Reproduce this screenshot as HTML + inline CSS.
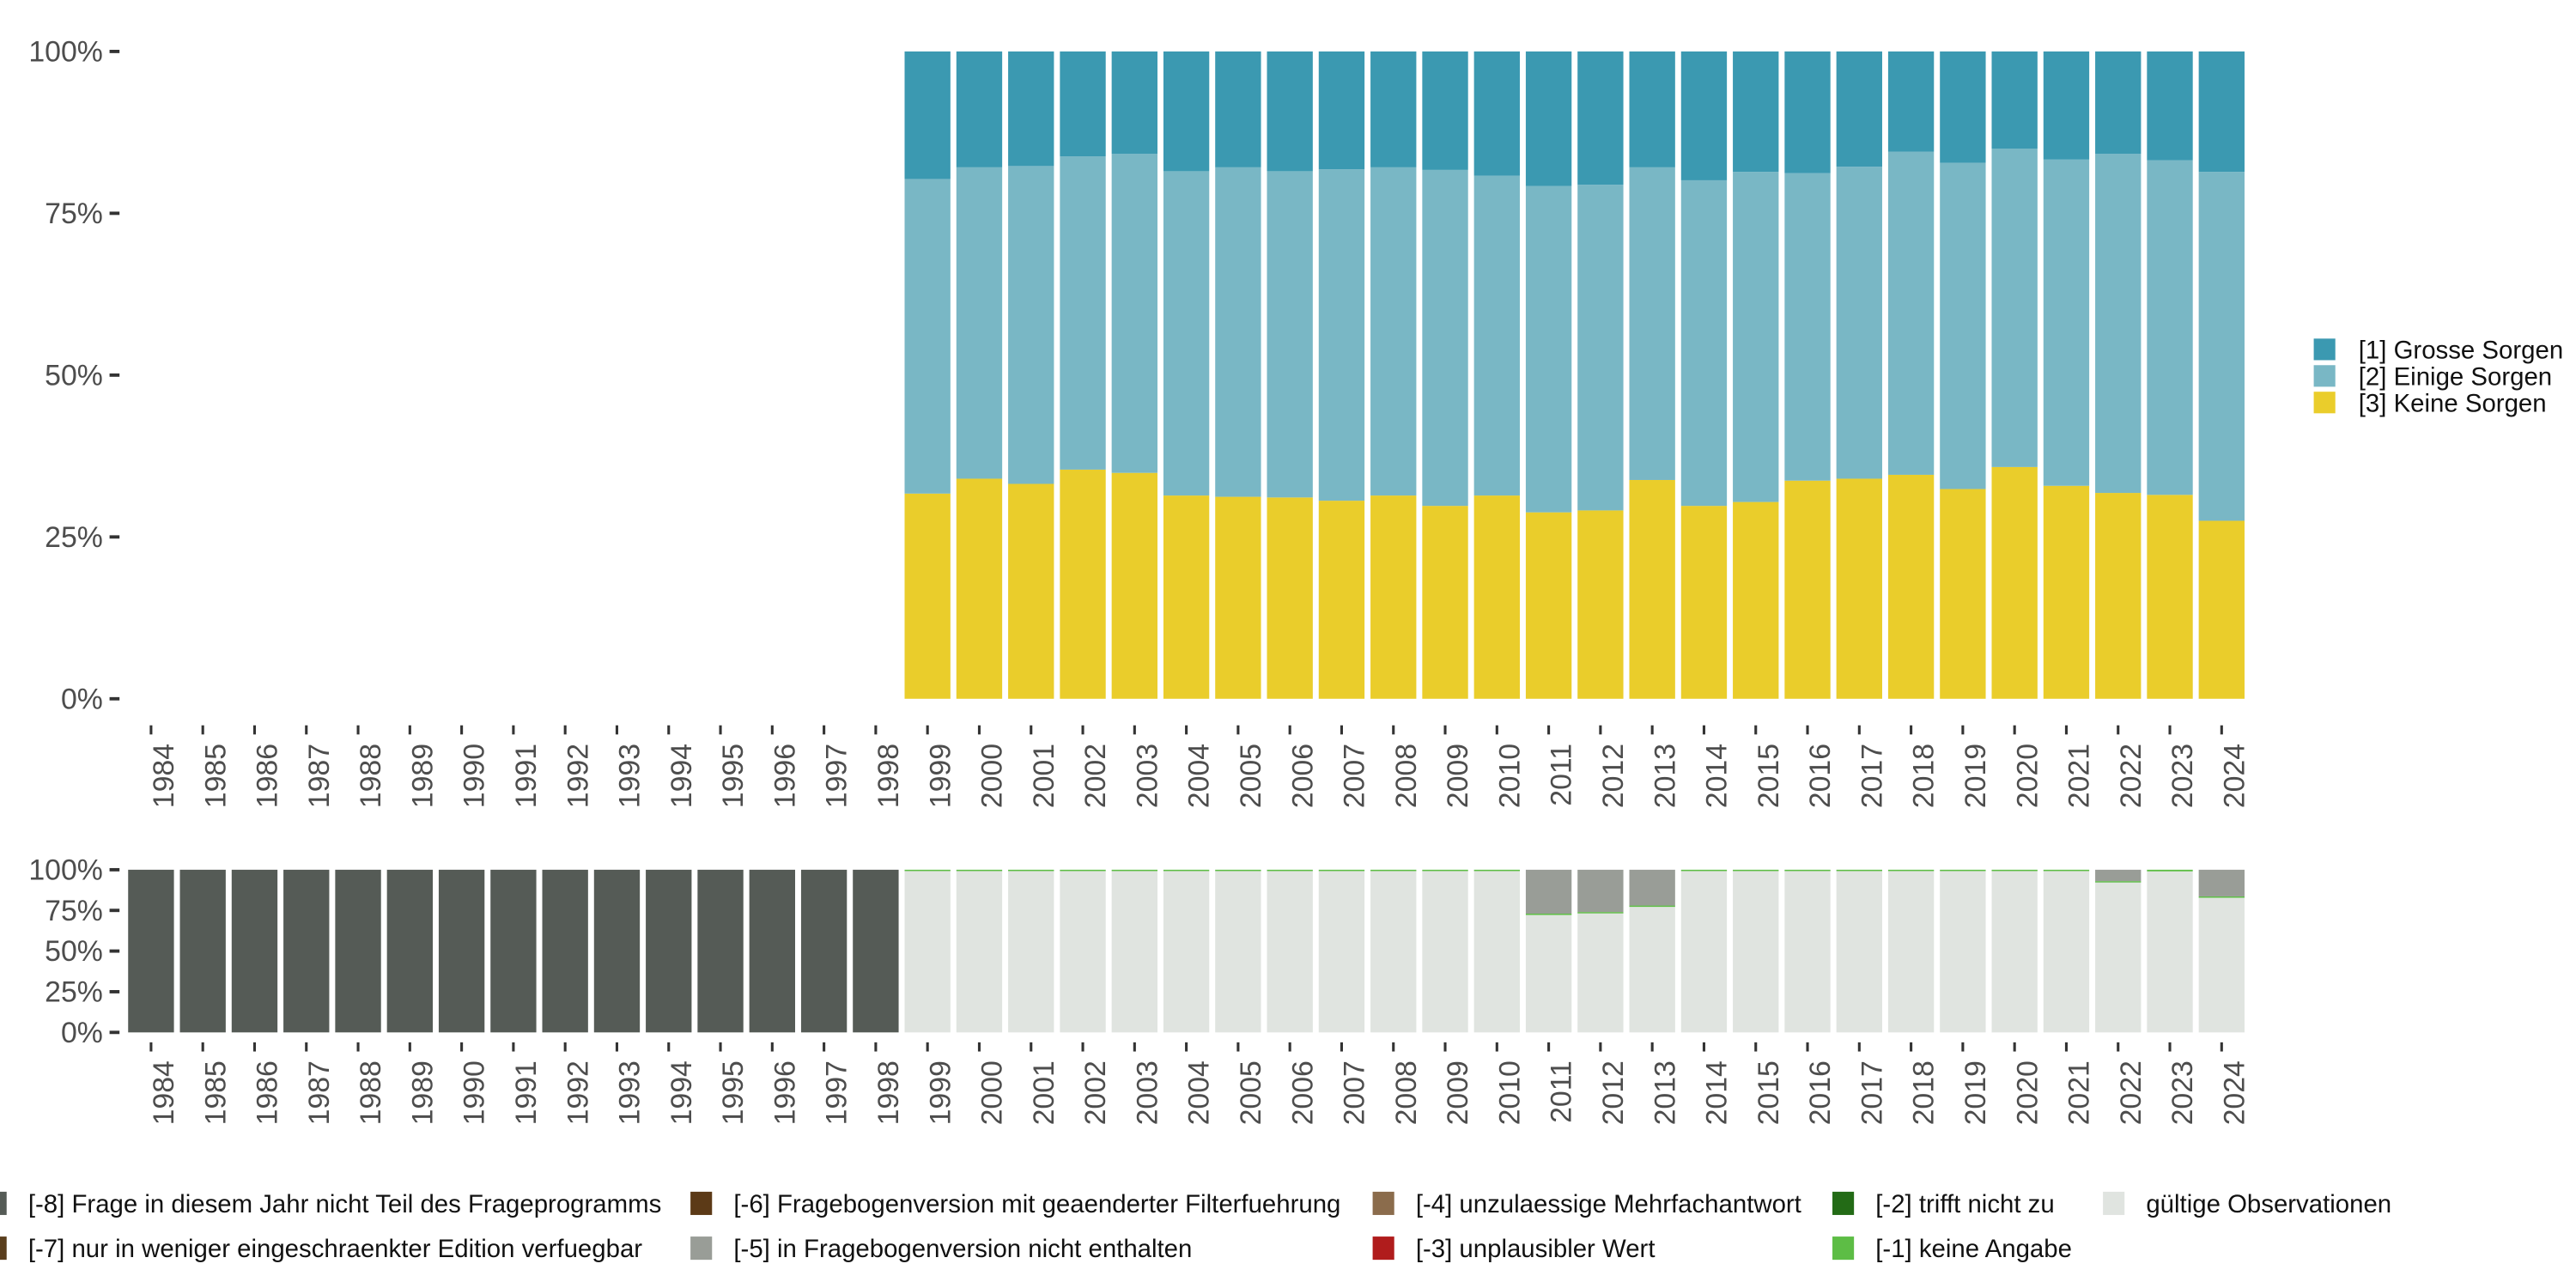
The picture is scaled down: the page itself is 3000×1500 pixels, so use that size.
<!DOCTYPE html>
<html><head><meta charset="utf-8">
<style>
html,body{margin:0;padding:0;background:#fff;}
svg{display:block;font-family:"Liberation Sans",sans-serif;}
</style></head>
<body>
<svg id="chart" width="3000" height="1500" viewBox="0 0 1552 776" xmlns="http://www.w3.org/2000/svg">
<g id="topPanel"></g>
<g id="botPanel"></g>
<g id="leg1"></g>
<g id="leg2"></g>
</svg>
<script>
const years = [];
for (let y = 1984; y <= 2024; y++) years.push(y);
const dataYears = [1999,2000,2001,2002,2003,2004,2005,2006,2007,2008,2009,2010,2011,2012,2013,2014,2015,2016,2017,2018,2019,2020,2021,2022,2023,2024];
const keine = [31.7,34.0,33.2,35.4,34.9,31.4,31.2,31.1,30.6,31.4,29.8,31.4,28.8,29.1,33.8,29.8,30.4,33.7,34.0,34.6,32.4,35.8,32.9,31.8,31.5,27.5];
const grosse = [19.7,17.9,17.7,16.2,15.8,18.5,17.9,18.5,18.2,17.9,18.3,19.2,20.8,20.6,17.9,19.9,18.6,18.8,17.8,15.5,17.2,15.0,16.7,15.8,16.8,18.6];
const missing8 = [100,100,100,100,100,100,100,100,100,100,100,100,100,100,100,0,0,0,0,0,0,0,0,0,0,0,0,0,0,0,0,0,0,0,0,0,0,0,0,0,0];
const missing5 = [0,0,0,0,0,0,0,0,0,0,0,0,0,0,0,0,0,0,0,0,0,0,0,0,0,0,0,27,26,22,0,0,0,0,0,0,0,0,7,0,16.4];
const missing1 = [0,0,0,0,0,0,0,0,0,0,0,0,0,0,0,0.4,0.4,0.4,0.4,0.4,0.4,0.4,0.4,0.4,0.4,0.4,0.4,0.4,0.4,0.4,0.4,0.4,0.4,0.4,0.4,0.4,0.4,0.4,0.4,1.0,0.4];
const yTicks = [0,25,50,75,100];
const yTickLabels = ["0%","25%","50%","75%","100%"];

const NS = "http://www.w3.org/2000/svg";
function mk(tag, attrs, parent){const e=document.createElementNS(NS,tag);for(const k in attrs)e.setAttribute(k,attrs[k]);parent.appendChild(e);return e;}
const xs = yr => 91 + (yr-1984)*(1338.5-91)/40;
const bw = 27.6;
const yTop = v => 421 - v/100*390;
const yBot = v => 622 - v/100*98;

function axes(g, yf, tickY, labY){
  yTicks.forEach((t,i)=>{
    const l=mk('line',{x1:66,x2:72,y1:yf(t),y2:yf(t),stroke:'#333','stroke-width':2},g);
    
    
    const tx=mk('text',{x:62,y:yf(t)+6,'text-anchor':'end','font-size':17.5,fill:'#4d4d4d'},g);
    
    
    tx.textContent=yTickLabels[i];
  });
  years.forEach(yr=>{
    const l=mk('line',{x1:xs(yr),x2:xs(yr),y1:tickY,y2:tickY+5.5,stroke:'#333','stroke-width':1.6},g);
    
    
    const tx=mk('text',{x:0,y:0,'text-anchor':'end','font-size':17.5,fill:'#4d4d4d',transform:'translate('+(xs(yr)+13.5)+','+labY+') rotate(-90)'},g);
    
    
    tx.textContent=yr;
  });
}

const topG=document.getElementById('topPanel');
dataYears.forEach((yr,i)=>{
  const k=keine[i], gr=grosse[i], ei=100-k-gr;
  const segs=[[0,k,'#eacd2b','bar-keine-sorgen'],[k,k+ei,'#79b7c5','bar-einige-sorgen'],[k+ei,100,'#3b99b1','bar-grosse-sorgen']];
  segs.forEach(s=>{
    const r=mk('rect',{x:xs(yr)-bw/2,y:yTop(s[1]),width:bw,height:yTop(s[0])-yTop(s[1]),fill:s[2]},topG);
    
    
  });
});
axes(topG,yTop,437,448);

const botG=document.getElementById('botPanel');
years.forEach((yr,i)=>{
  const m8=missing8[i]||0, m5=missing5[i]||0, m1=missing1[i]||0;
  let segs;
  if(m8>0) segs=[[0,m8,'#555b56','bar-not-in-program']];
  else { const v=100-m5-m1; segs=[[0,v,'#e0e4e0','bar-valid'],[v,v+m1,'#5dbd45','bar-keine-angabe'],[v+m1,100,'#999d97','bar-not-in-version']]; }
  segs.forEach(s=>{
    if(s[1]-s[0]<=0) return;
    const r=mk('rect',{x:xs(yr)-bw/2,y:yBot(s[1]),width:bw,height:Math.max(yBot(s[0])-yBot(s[1]),0.8),fill:s[2]},botG);
    
    
  });
});
axes(botG,yBot,628,639);

const leg1G=document.getElementById('leg1');
[['[1] Grosse Sorgen','#3b99b1'],['[2] Einige Sorgen','#79b7c5'],['[3] Keine Sorgen','#eacd2b']].forEach((e,i)=>{
  const r=mk('rect',{x:1394,y:204+i*16,width:13,height:13,fill:e[1]},leg1G);
  
  
  const t=mk('text',{x:1421,y:216+i*16,'font-size':15.2,fill:'#111'},leg1G);
  
  
  t.textContent=e[0];
});

const leg2G=document.getElementById('leg2');
const items=[
 [0,725,'#555b56','[-8] Frage in diesem Jahr nicht Teil des Frageprogramms'],
 [0,752,'#5a3e1d','[-7] nur in weniger eingeschraenkter Edition verfuegbar'],
 [416,725,'#5c3a17','[-6] Fragebogenversion mit geaenderter Filterfuehrung'],
 [416,752,'#999d97','[-5] in Fragebogenversion nicht enthalten'],
 [827,725,'#8b6c4c','[-4] unzulaessige Mehrfachantwort'],
 [827,752,'#b01c1c','[-3] unplausibler Wert'],
 [1104,725,'#236b16','[-2] trifft nicht zu'],
 [1104,752,'#5dbd45','[-1] keine Angabe'],
 [1267,725,'#e0e4e0','gültige Observationen']];
items.forEach(e=>{
  const sx=e[0]===0?-9:e[0];
  const r=mk('rect',{x:sx,y:e[1]-7,width:13,height:14,fill:e[2]},leg2G);
  
  
  const t=mk('text',{x:e[0]+(e[0]===0?17:26),y:e[1]+5.5,'font-size':15.2,fill:'#111'},leg2G);
  
  
  t.textContent=e[3];
});
</script>
</body></html>
